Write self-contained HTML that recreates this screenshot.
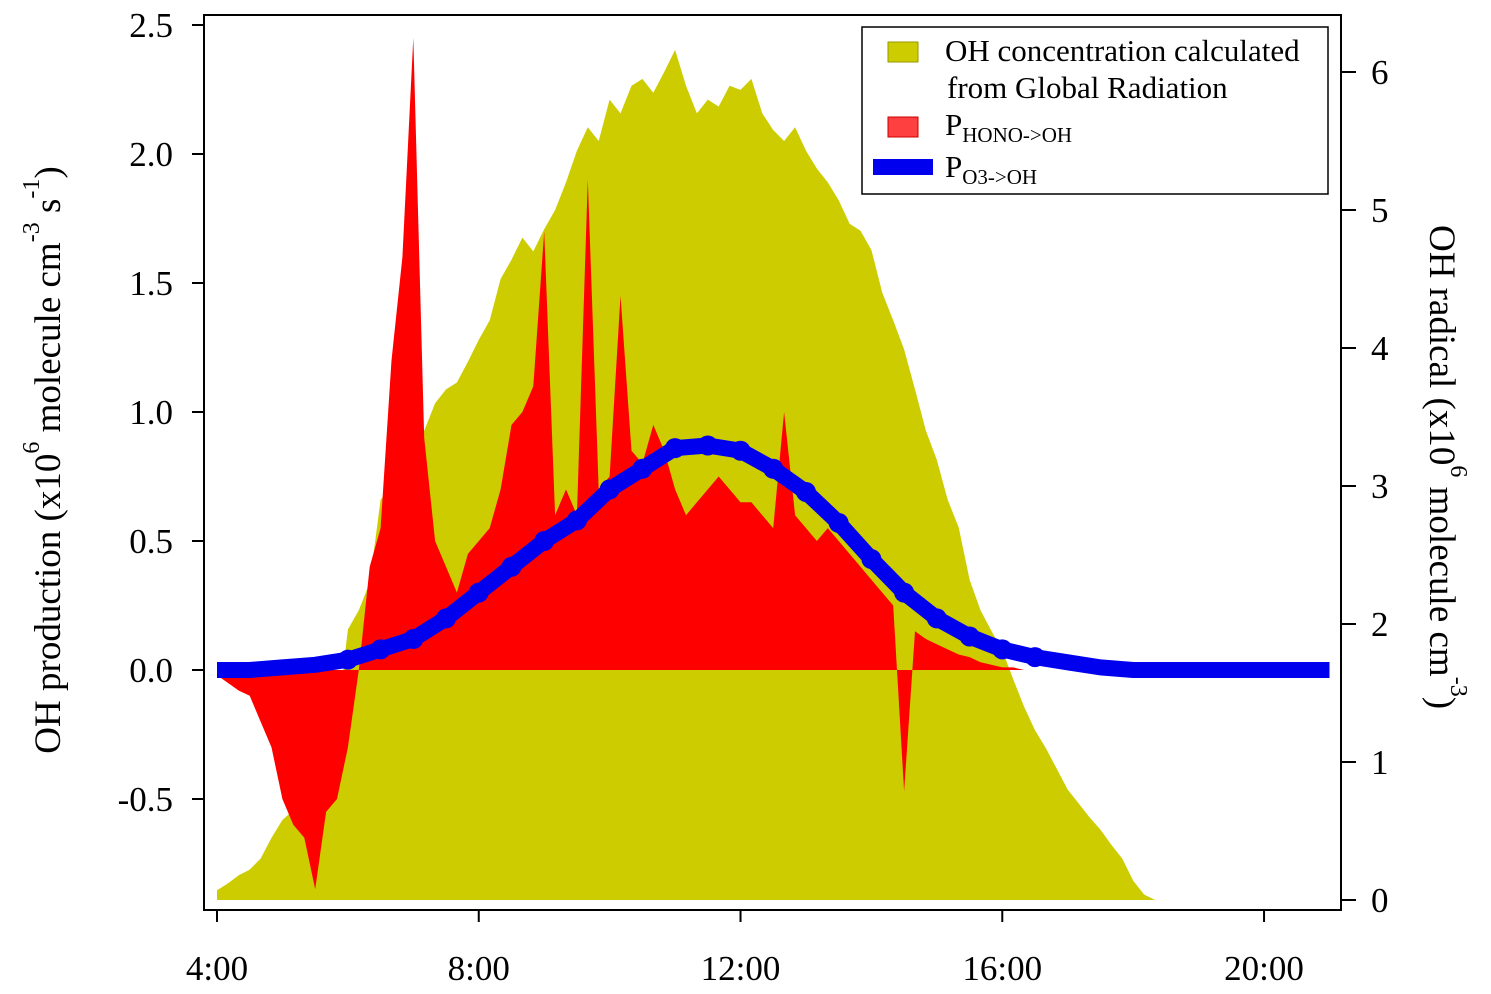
<!DOCTYPE html>
<html><head><meta charset="utf-8">
<style>
html,body{margin:0;padding:0;background:#fff;}
svg{display:block;font-family:"Liberation Serif",serif;}
</style></head>
<body>
<svg id="chart" width="1491" height="994" viewBox="0 0 1491 994" xmlns="http://www.w3.org/2000/svg">
<g id="plot"></g>
<g id="axes"></g>
<text transform="translate(60,460) rotate(-90)" text-anchor="middle" font-size="37">OH production (x10<tspan dy="-21" font-size="24">6</tspan><tspan dy="21"> molecule cm</tspan><tspan dy="-21" font-size="24">-3</tspan><tspan dy="21"> s</tspan><tspan dy="-21" font-size="24">-1</tspan><tspan dy="21">)</tspan></text>
<text transform="translate(1430,467) rotate(90)" text-anchor="middle" font-size="37">OH radical (x10<tspan dy="-21" font-size="24">6</tspan><tspan dy="21"> molecule cm</tspan><tspan dy="-21" font-size="24">-3</tspan><tspan dy="21">)</tspan></text>
<g>
<rect x="862" y="27" width="466" height="167" fill="#fff" stroke="#000" stroke-width="1.5"/>
<rect x="888" y="42" width="30" height="20" fill="#cccc00" stroke="#999900"/>
<text x="945" y="61" font-size="31">OH concentration calculated</text>
<text x="947" y="98" font-size="31">from Global Radiation</text>
<rect x="888" y="117" width="30" height="20" fill="#ff4040" stroke="#cc0000"/>
<text x="945" y="135" font-size="31">P<tspan font-size="21" dy="7">HONO-&gt;OH</tspan></text>
<rect x="873" y="159" width="60" height="16" fill="#0000ee"/>
<text x="945" y="177" font-size="31">P<tspan font-size="21" dy="7">O3-&gt;OH</tspan></text>
</g>
</svg>
<script>
const ohRadical = [
0.07,0.12,0.18,0.22,0.3,0.45,
0.58,0.65,0.75,1.0,0.9,1.3,
1.96,2.1,2.3,2.9,3.0,3.2,
3.5,3.4,3.6,3.7,3.75,3.9,
4.06,4.2,4.5,4.64,4.8,4.7,
4.86,5.0,5.2,5.43,5.6,5.5,
5.8,5.7,5.9,5.95,5.85,6.0,
6.16,5.9,5.7,5.8,5.75,5.9,
5.87,5.95,5.7,5.58,5.5,5.6,
5.43,5.3,5.2,5.07,4.9,4.85,
4.71,4.4,4.2,3.99,3.7,3.4,
3.19,2.9,2.7,2.32,2.1,1.95,
1.81,1.6,1.4,1.23,1.1,0.95,
0.8,0.7,0.6,0.51,0.4,0.3,
0.14,0.04,0,0,0,0,
0,0,0,0,0,0,0,0,0,0,0,0,0,0,0,0,0,0,0];
const pHono = [
-0.02,-0.05,-0.08,-0.1,-0.2,-0.3,
-0.5,-0.6,-0.65,-0.85,-0.55,-0.5,
-0.3,0.0,0.4,0.55,1.2,1.6,
2.45,0.9,0.5,0.4,0.3,0.45,
0.5,0.55,0.7,0.95,1.0,1.1,
1.7,0.6,0.7,0.6,1.9,0.7,
0.75,1.45,0.85,0.8,0.95,0.85,
0.7,0.6,0.65,0.7,0.75,0.7,
0.65,0.65,0.6,0.55,1.0,0.6,
0.55,0.5,0.55,0.5,0.45,0.4,
0.35,0.3,0.25,-0.47,0.15,0.12,
0.1,0.08,0.06,0.05,0.03,0.02,
0.01,0.01,0,0,0,0,
0,0,0,0,0,0,0,0,0,0,0,0,0,0,0,0,0,0,0,0,0,0,0,0,0,0,0,0,0,0,0];
const pO3 = [0.0,0.0,0.01,0.02,0.04,0.08,0.12,0.2,0.3,0.4,0.5,0.58,0.7,0.78,0.86,0.87,0.85,0.78,0.69,0.57,0.43,0.3,0.2,0.13,0.08,0.05,0.03,0.01,0,0,0,0,0,0,0];
const leftTicks = [-0.5,0.0,0.5,1.0,1.5,2.0,2.5];
const rightTicks = [0,1,2,3,4,5,6];
const xTicks = [4,8,12,16,20];
const xTickLabels = ["4:00","8:00","12:00","16:00","20:00"];

const NS="http://www.w3.org/2000/svg";
const xs = h => 217 + (h-4)*65.44;
const yl = v => 670 - v*258;
const yr = v => 900 - v*138;
function mk(tag, attrs, parent){const e=document.createElementNS(NS,tag);for(const k in attrs)e.setAttribute(k,attrs[k]);parent.appendChild(e);return e;}
const plot=document.getElementById('plot'), axes=document.getElementById('axes');

let d='M'+xs(4)+','+yr(0);
ohRadical.forEach((v,i)=>{d+=' L'+xs(4+i/6).toFixed(1)+','+yr(v).toFixed(1);});
d+=' L'+xs(4+(ohRadical.length-1)/6)+','+yr(0)+' Z';
const ya=mk('path',{d:d,fill:'#cccc00'},plot);



let r='M'+xs(4)+','+yl(0);
pHono.forEach((v,i)=>{r+=' L'+xs(4+i/6).toFixed(1)+','+yl(v).toFixed(1);});
r+=' L'+xs(4+(pHono.length-1)/6)+','+yl(0)+' Z';
const ra=mk('path',{d:r,fill:'#ff0000'},plot);



const pts=pO3.map((v,i)=>xs(4+i/2).toFixed(1)+','+yl(v).toFixed(1)).join(' ');
const bl=mk('polyline',{points:pts,fill:'none',stroke:'#0000ee','stroke-width':16,'stroke-linejoin':'round'},plot);


pO3.forEach((v,i)=>{if(v>0.03){const c=mk('circle',{cx:xs(4+i/2),cy:yl(v),r:10,fill:'#0000ee'},plot);

}});

mk('rect',{x:204,y:15,width:1137,height:895,fill:'none',stroke:'#000','stroke-width':2},axes);
leftTicks.forEach(t=>{mk('line',{x1:192,x2:204,y1:yl(t),y2:yl(t),stroke:'#000','stroke-width':2},axes);
const tx=mk('text',{x:173,y:yl(t)+12,'text-anchor':'end','font-size':35},axes);tx.textContent=t.toFixed(1);

});
rightTicks.forEach(t=>{mk('line',{x1:1341,x2:1356,y1:yr(t),y2:yr(t),stroke:'#000','stroke-width':2},axes);
const tx=mk('text',{x:1371,y:yr(t)+12,'font-size':35},axes);tx.textContent=t;

});
xTicks.forEach((t,i)=>{mk('line',{x1:xs(t),x2:xs(t),y1:910,y2:922,stroke:'#000','stroke-width':2},axes);
const tx=mk('text',{x:xs(t),y:980,'text-anchor':'middle','font-size':35},axes);tx.textContent=xTickLabels[i];

});
</script>
</body></html>
